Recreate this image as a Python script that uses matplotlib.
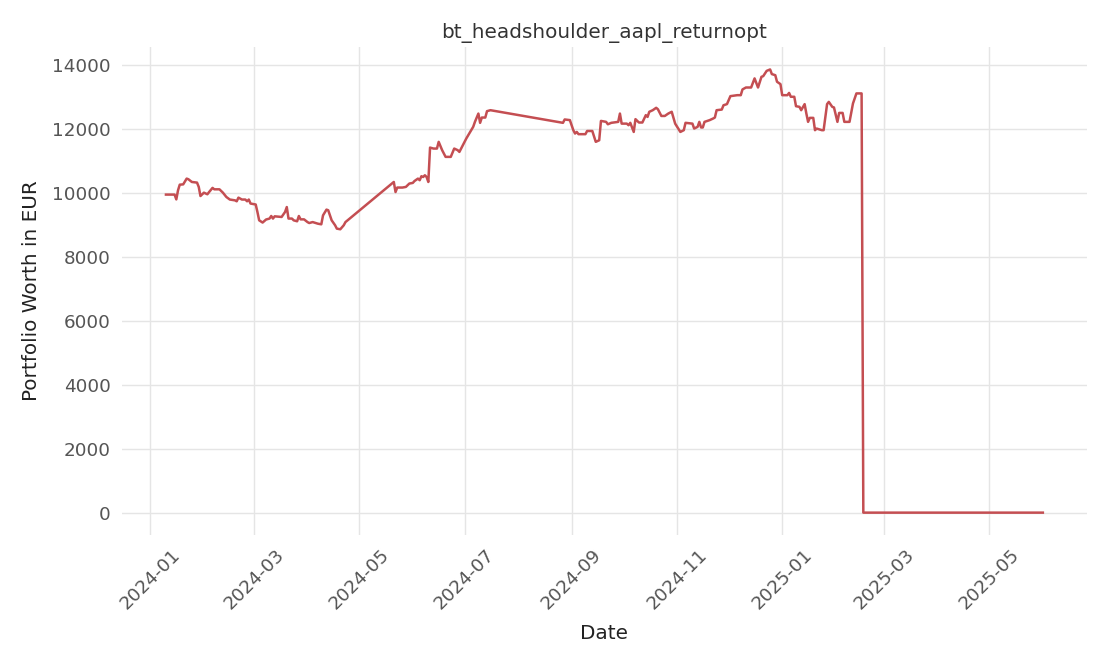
import matplotlib
matplotlib.use("Agg")
import matplotlib.pyplot as plt
import matplotlib.dates as mdates
import pandas as pd

dates = [
    "2024-01-10", "2024-01-15", "2024-01-16", "2024-01-17", "2024-01-18", "2024-01-20",
    "2024-01-22", "2024-01-23", "2024-01-25", "2024-01-28", "2024-01-29", "2024-01-30",
    "2024-02-01", "2024-02-03", "2024-02-04", "2024-02-06", "2024-02-07", "2024-02-10",
    "2024-02-12", "2024-02-14", "2024-02-16", "2024-02-19", "2024-02-20", "2024-02-21",
    "2024-02-23", "2024-02-25", "2024-02-26", "2024-02-27", "2024-02-28", "2024-03-02",
    "2024-03-03", "2024-03-04", "2024-03-06", "2024-03-08", "2024-03-10", "2024-03-11",
    "2024-03-12", "2024-03-13", "2024-03-17", "2024-03-19", "2024-03-20", "2024-03-21",
    "2024-03-23", "2024-03-24", "2024-03-26", "2024-03-27", "2024-03-28", "2024-03-30",
    "2024-04-01", "2024-04-02", "2024-04-04", "2024-04-07", "2024-04-09", "2024-04-10",
    "2024-04-12", "2024-04-13", "2024-04-15", "2024-04-17", "2024-04-18", "2024-04-20",
    "2024-04-22", "2024-04-23",
    "2024-05-21", "2024-05-22", "2024-05-23", "2024-05-26", "2024-05-28", "2024-05-30",
    "2024-06-01", "2024-06-02", "2024-06-04", "2024-06-05", "2024-06-06", "2024-06-07",
    "2024-06-08", "2024-06-09", "2024-06-10", "2024-06-11", "2024-06-13", "2024-06-15",
    "2024-06-16", "2024-06-18", "2024-06-20", "2024-06-23", "2024-06-25", "2024-06-27",
    "2024-06-28", "2024-07-02", "2024-07-06", "2024-07-07", "2024-07-09", "2024-07-10",
    "2024-07-11", "2024-07-13", "2024-07-14", "2024-07-16",
    "2024-08-27", "2024-08-28", "2024-08-31", "2024-09-02", "2024-09-03", "2024-09-04",
    "2024-09-05", "2024-09-09", "2024-09-10", "2024-09-13", "2024-09-15", "2024-09-17",
    "2024-09-18", "2024-09-21", "2024-09-22", "2024-09-24", "2024-09-28", "2024-09-29",
    "2024-09-30", "2024-10-03", "2024-10-04", "2024-10-05", "2024-10-07", "2024-10-08",
    "2024-10-10", "2024-10-12", "2024-10-14", "2024-10-15", "2024-10-16", "2024-10-18",
    "2024-10-20", "2024-10-21", "2024-10-23", "2024-10-25", "2024-10-27", "2024-10-29",
    "2024-10-31", "2024-11-02", "2024-11-03", "2024-11-05", "2024-11-06", "2024-11-10",
    "2024-11-11", "2024-11-13", "2024-11-14", "2024-11-15", "2024-11-16", "2024-11-17",
    "2024-11-20", "2024-11-22", "2024-11-23", "2024-11-24", "2024-11-27", "2024-11-28",
    "2024-11-30", "2024-12-02", "2024-12-06", "2024-12-08", "2024-12-09", "2024-12-11",
    "2024-12-14", "2024-12-16", "2024-12-18", "2024-12-20", "2024-12-21", "2024-12-23",
    "2024-12-25", "2024-12-26", "2024-12-28", "2024-12-29", "2024-12-31", "2025-01-01",
    "2025-01-04", "2025-01-05", "2025-01-06", "2025-01-08", "2025-01-09", "2025-01-11",
    "2025-01-12", "2025-01-14", "2025-01-15", "2025-01-16", "2025-01-17", "2025-01-19",
    "2025-01-20", "2025-01-21", "2025-01-24", "2025-01-25", "2025-01-27", "2025-01-28",
    "2025-01-30", "2025-01-31", "2025-02-02", "2025-02-03", "2025-02-05", "2025-02-06",
    "2025-02-09", "2025-02-11", "2025-02-13", "2025-02-16", "2025-02-17", "2025-06-01",
]

worth = [
    9950, 9950, 9800, 10085, 10260, 10270,
    10450, 10430, 10345, 10325, 10190, 9905,
    10010, 9960, 10030, 10160, 10115, 10115,
    10010, 9875, 9795, 9770, 9740, 9855,
    9795, 9795, 9740, 9795, 9670, 9640,
    9405, 9145, 9075, 9170, 9200, 9280,
    9200, 9270, 9250, 9405, 9560, 9200,
    9200, 9145, 9115, 9280, 9175, 9175,
    9090, 9060, 9090, 9040, 9020, 9300,
    9480, 9460, 9145, 8990, 8885, 8865,
    8990, 9090,
    10345, 10030, 10170, 10170, 10190, 10295,
    10315, 10375, 10450, 10400, 10525, 10500,
    10555, 10500, 10345, 11420, 11390, 11390,
    11600, 11340, 11130, 11130, 11390, 11340,
    11285, 11705, 12070, 12225, 12485, 12195,
    12360, 12360, 12560, 12590,
    12195, 12300, 12280, 11965, 11860, 11910,
    11840, 11840, 11940, 11940, 11600, 11650,
    12255, 12225, 12150, 12195, 12225, 12485,
    12170, 12170, 12120, 12195, 11910, 12310,
    12205, 12205, 12435, 12380, 12540, 12590,
    12665, 12620, 12410, 12410, 12485, 12540,
    12170, 11995, 11910, 11965, 12195, 12170,
    12015, 12070, 12225, 12050, 12050, 12225,
    12280, 12330, 12360, 12590, 12610, 12745,
    12780, 13030, 13060, 13060, 13240, 13300,
    13300, 13585, 13300, 13635, 13655, 13820,
    13865, 13720, 13685, 13480, 13405, 13060,
    13060, 13130, 13010, 13010, 12715, 12695,
    12590, 12780, 12485, 12225, 12350, 12350,
    11965, 12015, 11965, 11965, 12780, 12850,
    12695, 12675, 12225, 12505, 12505, 12225,
    12225, 12800, 13115, 13115, 0, 0,
]

title = "bt_headshoulder_aapl_returnopt"
xlabel = "Date"
ylabel = "Portfolio Worth in EUR"

x = pd.to_datetime(dates)

fig = plt.figure(figsize=(11.1, 6.66), dpi=100)
ax = fig.add_axes([0.11, 0.197, 0.869, 0.732])
ax.plot(x, worth, color="#c44e52", linewidth=1.8)

ax.set_title(title, fontsize=14.4, color="#333333", pad=7)
ax.set_xlabel(xlabel, fontsize=14.4, color="#222222", labelpad=8)
ax.set_ylabel(ylabel, fontsize=14.4, color="#222222", labelpad=8)

ax.xaxis.set_major_locator(mdates.MonthLocator(bymonth=[1, 3, 5, 7, 9, 11]))
ax.xaxis.set_major_formatter(mdates.DateFormatter("%Y-%m"))
ax.set_yticks([0, 2000, 4000, 6000, 8000, 10000, 12000, 14000])

for s in ax.spines.values():
    s.set_visible(False)
ax.grid(True, color="#e5e5e5", linewidth=1.0)
ax.set_axisbelow(True)
ax.tick_params(axis="both", length=0, labelsize=13.2, labelcolor="#555555", pad=8)
plt.setp(ax.get_xticklabels(), rotation=45)

fig.savefig("out.png", dpi=100)
